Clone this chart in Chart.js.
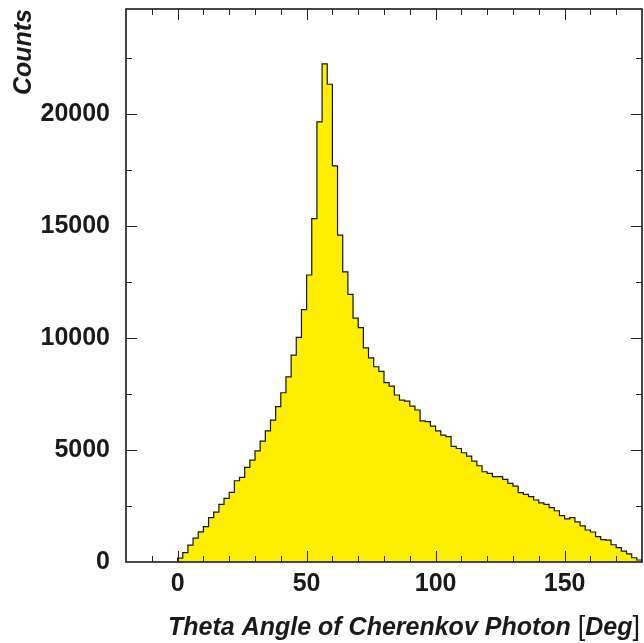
<!DOCTYPE html>
<html>
<head>
<meta charset="utf-8">
<title>Theta Angle of Cherenkov Photon</title>
<script src="https://cdn.jsdelivr.net/npm/chart.js@4.4.1/dist/chart.umd.min.js"></script>
<style>
  html, body { margin: 0; padding: 0; background: #fff; }
  #wrap { width: 644px; height: 643px; }
</style>
</head>
<body>
<div id="wrap"><canvas id="theta-hist"></canvas></div>
<script>
// histogram binning: 90 bins of 2 deg starting at 0
const binStart = 0;
const binWidth = 2;

// counts per bin, 0-2 deg up to 178-180 deg
const counts = [
  170, 420, 750, 1070, 1350, 1580, 1980, 2230, 2570, 2840,
  3110, 3630, 3780, 4230, 4550, 4960, 5400, 5860, 6340, 6940,
  7560, 8270, 9240, 10030, 11270, 12820, 15340, 19660, 22250, 21340,
  17690, 14600, 12960, 11950, 10890, 10470, 9560, 9120, 8720, 8510,
  8010, 7860, 7460, 7230, 7190, 6960, 6790, 6300, 6270, 6070,
  5860, 5670, 5600, 5160, 5070, 4880, 4730, 4510, 4300, 4030,
  3960, 3810, 3810, 3690, 3510, 3390, 3100, 3020, 2920, 2770,
  2640, 2570, 2430, 2290, 2070, 1930, 1980, 1790, 1610, 1430,
  1340, 1130, 1000, 980, 770, 640, 490, 360, 190, 90
];

// axis ranges, tick spacing and labelled ticks
const xRange = [-20, 180];
const yRange = [0, 24700];
const xStep = 10;
const yStep = 2500;
const xLabels = [0, 50, 100, 150];
const yLabels = [0, 5000, 10000, 15000, 20000];

const family = "'Liberation Sans', Arial, sans-serif";
const labelFont = { family, size: 25, weight: 'bold' };
const titleFont = { family, size: 25, weight: 'bold', style: 'italic' };

// step outline: each point holds the value of the bin starting at its x
const points = [{ x: binStart, y: 0 }];
counts.forEach((c, i) => points.push({ x: binStart + i * binWidth, y: c }));
points.push({ x: binStart + counts.length * binWidth, y: 0 });

function tickValues(lo, hi, step) {
  const out = [];
  for (let v = Math.ceil(lo / step) * step; v <= hi; v += step) out.push({ value: v });
  return out;
}

// frame with inward ticks on all four sides
const frameTicks = {
  id: 'frameTicks',
  afterDatasetsDraw(chart) {
    const { ctx, chartArea: a, scales: { x, y } } = chart;
    ctx.save();
    ctx.strokeStyle = '#222';
    ctx.lineWidth = 1;
    ctx.beginPath();
    x.ticks.forEach(t => {
      if (t.value <= xRange[0] || t.value >= xRange[1]) return;
      const px = Math.round(x.getPixelForValue(t.value)) + 0.5;
      const len = t.value % 50 === 0 ? 11 : 6;
      ctx.moveTo(px, a.bottom); ctx.lineTo(px, a.bottom - len);
      ctx.moveTo(px, a.top); ctx.lineTo(px, a.top + len);
    });
    y.ticks.forEach(t => {
      if (t.value <= yRange[0] || t.value >= yRange[1]) return;
      const py = Math.round(y.getPixelForValue(t.value)) + 0.5;
      const len = t.value % 5000 === 0 ? 11 : 6;
      ctx.moveTo(a.left, py); ctx.lineTo(a.left + len, py);
      ctx.moveTo(a.right, py); ctx.lineTo(a.right - len, py);
    });
    ctx.stroke();
    ctx.lineWidth = 1.6;
    ctx.strokeStyle = '#1a1a1a';
    ctx.strokeRect(a.left, a.top, a.right - a.left, a.bottom - a.top);
    ctx.restore();
  }
};

// x title: italic words with upright brackets around the unit
const xTitle = {
  id: 'xTitle',
  afterDraw(chart) {
    const { ctx } = chart;
    const parts = [
      ['Theta Angle of Cherenkov Photon ', `italic bold 25px ${family}`],
      ['[', `27px ${family}`],
      ['Deg', `italic bold 25px ${family}`],
      [']', `27px ${family}`],
    ];
    ctx.save();
    ctx.fillStyle = '#1a1a1a';
    ctx.textBaseline = 'alphabetic';
    let total = 0;
    parts.forEach(([s, f]) => { ctx.font = f; total += ctx.measureText(s).width; });
    let x = chart.chartArea.right - 2 - total;
    parts.forEach(([s, f]) => {
      ctx.font = f;
      ctx.fillText(s, x, 635);
      x += ctx.measureText(s).width;
    });
    ctx.restore();
  }
};

const config = {
  type: 'line',
  data: {
    datasets: [{
      data: points,
      stepped: 'before',
      fill: 'origin',
      backgroundColor: '#ffee00',
      borderColor: '#151515',
      borderWidth: 1.2,
      pointRadius: 0,
      tension: 0,
    }],
  },
  options: {
    responsive: false,
    animation: false,
    events: [],
    layout: { padding: { top: 9, right: 2, left: 0, bottom: 0 } },
    plugins: { legend: { display: false }, tooltip: { enabled: false } },
    scales: {
      x: {
        type: 'linear',
        min: xRange[0],
        max: xRange[1],
        grid: { display: false, drawTicks: false },
        border: { display: false },
        afterBuildTicks: s => { s.ticks = tickValues(xRange[0], xRange[1], xStep); },
        afterFit: s => { s.height = 81; s.paddingLeft = 0; s.paddingRight = 0; },
        ticks: {
          autoSkip: false,
          maxRotation: 0,
          padding: 7,
          color: '#1a1a1a',
          font: labelFont,
          callback: v => (xLabels.includes(v) ? String(v) : ''),
        },
      },
      y: {
        min: yRange[0],
        max: yRange[1],
        grid: { display: false, drawTicks: false },
        border: { display: false },
        afterBuildTicks: s => { s.ticks = tickValues(yRange[0], yRange[1], yStep); },
        afterFit: s => { s.width = 126; s.paddingTop = 0; s.paddingBottom = 0; },
        ticks: {
          autoSkip: false,
          padding: 16,
          color: '#1a1a1a',
          font: labelFont,
          callback: v => (yLabels.includes(v) ? String(v) : ''),
        },
        title: {
          display: true,
          text: 'Counts',
          align: 'end',
          color: '#1a1a1a',
          font: titleFont,
          padding: { top: 9, bottom: 0 },
        },
      },
    },
  },
  plugins: [frameTicks, xTitle],
};

const canvas = document.getElementById('theta-hist');
canvas.width = 644;
canvas.height = 643;
new Chart(canvas.getContext('2d'), config);
</script>
</body>
</html>
